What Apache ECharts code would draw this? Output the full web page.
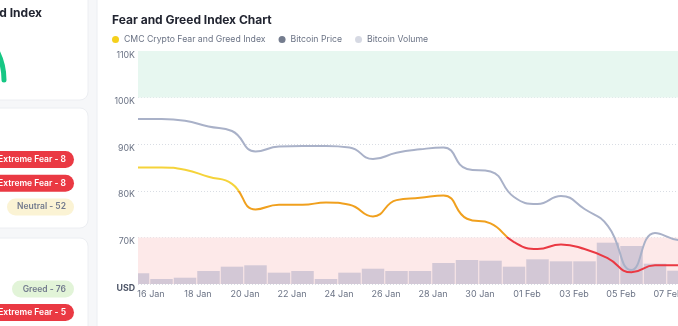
<!DOCTYPE html>
<html>
<head>
<meta charset="utf-8">
<script src="https://cdn.jsdelivr.net/npm/echarts/dist/echarts.min.js"></script>
<style>
  html, body { margin: 0; padding: 0; background: #f6f7f9; }
  #chart { width: 678px; height: 326px; }
</style>
</head>
<body>
<div id="chart"></div>
<script>
// Daily samples (taken at noon) for the Fear and Greed chart
const days = ['15 Jan', '16 Jan', '17 Jan', '18 Jan', '19 Jan', '20 Jan', '21 Jan', '22 Jan', '23 Jan',
  '24 Jan', '25 Jan', '26 Jan', '27 Jan', '28 Jan', '29 Jan', '30 Jan', '31 Jan', '01 Feb', '02 Feb',
  '03 Feb', '04 Feb', '05 Feb', '06 Feb', '07 Feb', '08 Feb'];

// CMC Crypto Fear and Greed Index (0-100)
const fearGreed = [50, 50, 49, 46, 43, 32, 34, 34, 35, 34, 29, 36, 37, 38, 28, 26, 18, 15, 17, 15, 11, 5, 8, 8, 8];

// Bitcoin price, USD
const btcPrice = [95410, 95410, 95040, 93800, 92830, 88430, 89510, 89610, 89610, 89290, 86820, 88170,
  88900, 89290, 84680, 84140, 78670, 77170, 78880, 76090, 72440, 63000, 70940, 69440, 69200];

// Bitcoin volume, billions USD
const btcVolume = [23.0, 10.7, 13.5, 27.9, 37.1, 40.1, 24.3, 27.9, 10.7, 24.3, 32.8, 27.9, 27.9, 45.1,
  51.5, 50.0, 37.1, 53.0, 48.7, 48.7, 88.6, 81.5, 43.6, 28.5, 25.0];

// Sentiment bands of the index
const sentimentLevels = [
  { name: 'Extreme Fear', from: 0, to: 20, color: '#ea3943' },
  { name: 'Fear', from: 20, to: 40, color: '#f0a01e' },
  { name: 'Neutral', from: 40, to: 60, color: '#f5d33a' },
  { name: 'Greed', from: 60, to: 80, color: '#93d900' },
  { name: 'Extreme Greed', from: 80, to: 100, color: '#16c784' }
];

// Historical values listed in the side cards
const sideCardValuesTop = [['Extreme Fear', 8], ['Extreme Fear', 8], ['Neutral', 52]];
const sideCardValuesBottom = [['Greed', 76], ['Extreme Fear', 5]];

const FONT = 'Inter, "Noto Sans", sans-serif';
const chart = echarts.init(document.getElementById('chart'), null, { renderer: 'canvas' });

const badgeStyles = {
  'Extreme Fear': { fill: '#ea3943', text: '#ffffff', left: -20 },
  'Neutral': { fill: '#fbf3d4', text: '#737b8e', left: 7 },
  'Greed': { fill: '#e2f4d8', text: '#737b8e', left: 12 }
};

function badge(entry, cy) {
  const st = badgeStyles[entry[0]];
  return [
    { type: 'rect', z: -5, silent: true,
      shape: { x: st.left, y: cy - 8.5, width: 74 - st.left, height: 17, r: 8.5 },
      style: { fill: st.fill } },
    { type: 'text', z: -4, silent: true,
      style: { x: 66, y: cy, text: entry[0] + ' - ' + entry[1], align: 'right', verticalAlign: 'middle',
        fill: st.text, font: '600 8.5px ' + FONT } }
  ];
}

const cardStyle = { fill: '#ffffff', stroke: '#eceef2', lineWidth: 1 };
const graphics = [
  { type: 'rect', z: -10, silent: true, shape: { x: 97, y: -20, width: 640, height: 400, r: 10 }, style: cardStyle },
  { type: 'rect', z: -10, silent: true, shape: { x: -20, y: -20, width: 108, height: 120, r: 8 }, style: cardStyle },
  { type: 'rect', z: -10, silent: true, shape: { x: -20, y: 108, width: 108, height: 120, r: 8 }, style: cardStyle },
  { type: 'rect', z: -10, silent: true, shape: { x: -20, y: 238, width: 108, height: 120, r: 8 }, style: cardStyle },
  { type: 'text', z: -4, silent: true,
    style: { x: 42, y: 13, text: 'Fear and Greed Index', align: 'right', verticalAlign: 'middle',
      fill: '#222531', font: 'bold 12px ' + FONT } },
  { type: 'arc', z: -4, silent: true,
    shape: { cx: -60, cy: 80, r: 64, startAngle: -Math.PI / 5, endAngle: 0 },
    style: { stroke: '#16c784', lineWidth: 5, lineCap: 'round', fill: null } }
];
sideCardValuesTop.forEach((e, i) => graphics.push(...badge(e, 159.5 + i * 23.7)));
sideCardValuesBottom.forEach((e, i) => graphics.push(...badge(e, 289 + i * 23.5)));

// Volume columns span midnight to midnight around each noon sample, clipped to the plot
function renderVolume(params, api) {
  const idx = api.value(0);
  const top = api.coord([idx, api.value(1)]);
  const base = api.coord([idx, 0]);
  const w = api.size([1, 0])[0] - 1;
  const cs = params.coordSys;
  const rect = echarts.graphic.clipRectByRect(
    { x: top[0] - w / 2, y: top[1], width: w, height: base[1] - top[1] },
    { x: cs.x, y: cs.y, width: cs.width, height: cs.height });
  return rect && { type: 'rect', shape: rect, style: { fill: 'rgba(160,160,190,0.45)' } };
}

const option = {
  backgroundColor: '#f6f7f9',
  animation: false,
  textStyle: { fontFamily: FONT },
  graphic: graphics,
  title: {
    text: 'Fear and Greed Index Chart', left: 107, top: 9,
    textStyle: { fontFamily: FONT, fontSize: 12, fontWeight: 'bold', color: '#222531' }
  },
  legend: {
    left: 107, top: 30, icon: 'circle', itemWidth: 7, itemHeight: 7, itemGap: 13,
    selectedMode: false,
    textStyle: { fontFamily: FONT, fontSize: 8.7, color: '#6b7385' },
    data: [
      { name: 'CMC Crypto Fear and Greed Index', itemStyle: { color: '#f5d01c' } },
      { name: 'Bitcoin Price', itemStyle: { color: '#747c8e' } },
      { name: 'Bitcoin Volume', itemStyle: { color: '#d6d9e3' } }
    ]
  },
  grid: { left: 138, width: 564, top: 51, bottom: 42, containLabel: false, outerBoundsMode: 'none' },
  xAxis: {
    type: 'category', data: days, boundaryGap: false,
    axisLine: { show: false }, axisTick: { show: false }, splitLine: { show: false },
    axisLabel: {
      interval: (i) => i % 2 === 1,
      margin: 6, color: '#6b7385', fontSize: 9, fontFamily: FONT,
      padding: [0, 21, 0, 0]
    }
  },
  yAxis: [
    {
      type: 'value', min: 60000, max: 110000, interval: 10000,
      axisLine: { show: false }, axisTick: { show: false },
      splitLine: { show: true, lineStyle: { color: '#d9dde4', type: [1, 2], width: 1 } },
      axisLabel: {
        margin: 3, fontSize: 8.8, color: '#6b7385', fontFamily: FONT,
        verticalAlign: 'middle', padding: [8, 0, 0, 0],
        formatter: (v) => v === 60000 ? '{u|USD}' : (v / 1000) + 'K',
        rich: { u: { fontWeight: 'bold', color: '#4e5668', fontSize: 8.8, fontFamily: FONT } }
      }
    },
    { type: 'value', min: 0, max: 500, show: false, splitLine: { show: false } },
    { type: 'value', min: 0, max: 100, show: false, splitLine: { show: false } }
  ],
  visualMap: {
    type: 'piecewise', show: false, seriesIndex: 3, dimension: 1,
    pieces: sentimentLevels.map((l) => ({ gte: l.from, lt: l.to === 100 ? 101 : l.to, color: l.color }))
  },
  series: [
    {
      type: 'line', data: [], z: 1, silent: true,
      markArea: {
        silent: true,
        data: [
          [{ yAxis: 100000, itemStyle: { color: '#e7f7f0' } }, { yAxis: 110000 }],
          [{ yAxis: 60000, itemStyle: { color: '#fde9e9' } }, { yAxis: 70000 }]
        ]
      }
    },
    {
      name: 'Bitcoin Volume', type: 'custom', yAxisIndex: 1, z: 2,
      data: btcVolume.map((v, i) => [i, v]),
      encode: { x: 0, y: 1 },
      itemStyle: { color: '#d6d9e3' },
      renderItem: renderVolume
    },
    {
      name: 'Bitcoin Price', type: 'line', yAxisIndex: 0, data: btcPrice, z: 3,
      smooth: true, showSymbol: false,
      itemStyle: { color: '#747c8e' },
      lineStyle: { color: '#a9b1c8', width: 2 }
    },
    {
      name: 'CMC Crypto Fear and Greed Index', type: 'line', yAxisIndex: 2, data: fearGreed, z: 4,
      smooth: true, showSymbol: false,
      itemStyle: { color: '#f5d01c' },
      lineStyle: { width: 2 }
    }
  ]
};
chart.setOption(option);
</script>
</body>
</html>
